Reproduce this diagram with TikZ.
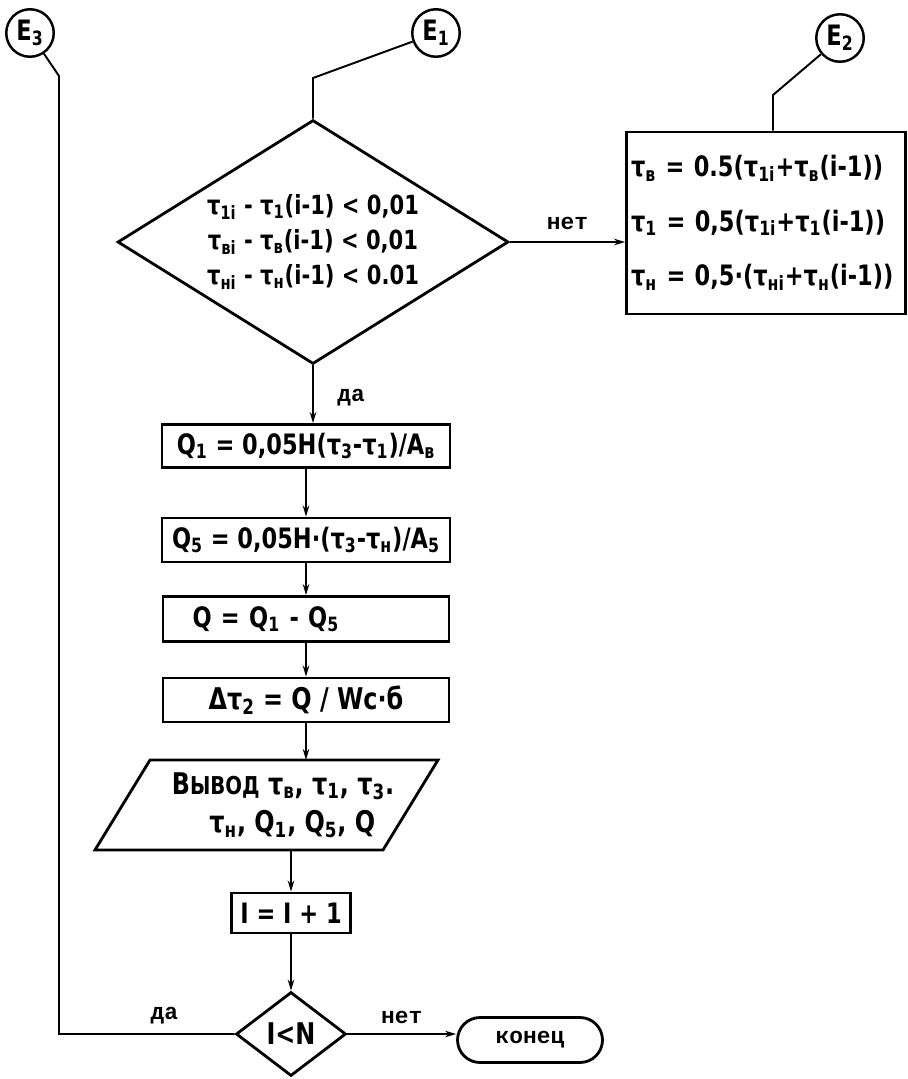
\documentclass[tikz,border=0pt]{standalone}
\usepackage{fontspec}
\setmainfont{DejaVu Sans}
\newfontfamily\hand[FakeStretch=0.8]{DejaVu Sans}
\newfontfamily\schreib{Liberation Mono}
\usetikzlibrary{shapes.geometric,arrows.meta}
\newcommand{\idx}[1]{\textsubscript{#1}}

\tikzset{
    block/.style={draw,line width=1.6pt,inner sep=0.09cm,font={\hand\bfseries\fontsize{16}{19}\selectfont}},
    raute/.style={draw,diamond,line width=1.6pt,inner sep=0pt,font={\hand\bfseries\fontsize{15}{20}\selectfont}},
    anschluss/.style={draw,circle,line width=1.4pt,minimum size=0.95cm,inner sep=0pt,font={\hand\bfseries\fontsize{16}{16}\selectfont}},
    linie/.style={line width=1.1pt},
    pfeil/.style={linie,-{Stealth[length=0.22cm,width=0.13cm]}},
    marke/.style={font={\schreib\bfseries\fontsize{13}{15}\selectfont}},
}

\begin{document}
\begin{tikzpicture}[x=0.02cm,y=-0.02cm]
    \useasboundingbox (0,0) rectangle (908,1079);

    % Anschlussstellen
    \node[anschluss] (e3) at (30,33) {E\idx{3}};
    \node[anschluss] (e1) at (436,33) {E\idx{1}};
    \node[anschluss] (e2) at (840,38) {E\idx{2}};
    \coordinate (k3) at (59,76);
    \coordinate (k1) at (313,78);
    \coordinate (k2) at (773,95);

    % Abfrage Genauigkeit
    \node[raute,shape aspect=1.6,minimum width=7.82cm,minimum height=4.88cm,align=center] (d1) at (313,242)
        {τ\idx{1i} - τ\idx{1}(i-1) < 0,01\\
         τ\idx{вi} - τ\idx{в}(i-1) < 0,01\\
         τ\idx{нi} - τ\idx{н}(i-1) < 0.01};
    \node[block,text width=5.4cm,minimum height=3.64cm,align=left,font={\hand\bfseries\fontsize{16}{31}\selectfont}] (rb) at (766,223)
        {τ\idx{в} = 0.5(τ\idx{1i}+τ\idx{в}(i-1))\\
         τ\idx{1} = 0,5(τ\idx{1i}+τ\idx{1}(i-1))\\
         τ\idx{н} = 0,5·(τ\idx{нi}+τ\idx{н}(i-1))};

    % Berechnung
    \node[block,minimum width=5.76cm,minimum height=0.86cm] (b1) at (306,446) {Q\idx{1} = 0,05H(τ\idx{3}-τ\idx{1})/A\idx{в}};
    \node[block,minimum width=5.76cm,minimum height=0.88cm] (b2) at (306,540) {Q\idx{5} = 0,05H·(τ\idx{3}-τ\idx{н})/A\idx{5}};
    \node[block,text width=5.54cm,minimum height=0.9cm,align=left] (b3) at (306,619) {\hspace*{0.5cm}Q = Q\idx{1} - Q\idx{5}};
    \node[block,minimum width=5.72cm,minimum height=0.88cm,font={\hand\bfseries\fontsize{17}{19}\selectfont}] (b4) at (306,700) {Δτ\idx{2} = Q / Wc·б};

    % Ausgabe
    \draw[line width=1.6pt] (150,760) -- (438,760) -- (383,850) -- (95,850) -- cycle;
    \coordinate (ptop) at (306,760);
    \coordinate (pbot) at (291,850);
    \node[font={\hand\bfseries\fontsize{17}{22}\selectfont},align=left] (vyvod) at (283,805)
        {В{\fontsize{14}{22}\selectfont ЫВОД} τ\idx{в}, τ\idx{1}, τ\idx{3}.\\
         \hspace*{0.75cm}τ\idx{н}, Q\idx{1}, Q\idx{5}, Q};

    % Zaehler und Ende
    \node[block,minimum width=2.38cm,minimum height=0.8cm] (inc) at (291,913) {I = I + 1};
    \node[raute,minimum width=2.2cm,minimum height=1.68cm,font={\hand\bfseries\fontsize{17}{20}\selectfont}] (cmp2) at (291,1034) {I<N};
    \node[draw,line width=1.6pt,rounded corners=0.45cm,minimum width=2.9cm,minimum height=0.9cm,marke] (konec) at (530,1040) {конец};

    % Verbindungen
    \draw[linie] (e1) -- (k1) -- (d1.north);
    \draw[linie] (e2) -- (k2) -- (k2 |- rb.north);
    \draw[pfeil] (d1.east) -- (d1.east -| rb.west) node[midway,above=3pt,marke] (net1) {нет};
    \draw[pfeil] (d1.south) -- (d1.south |- b1.north) node[pos=0.55,right=10pt,marke] (da1) {да};
    \foreach \a/\b in {b1/b2,b2/b3,b3/b4} {
        \draw[pfeil] (\a.south) -- (\b.north);
    }
    \draw[pfeil] (b4.south) -- (ptop);
    \draw[pfeil] (pbot) -- (inc.north);
    \draw[pfeil] (inc.south) -- (cmp2.north);
    \draw[pfeil] (cmp2.east) -- (cmp2.east -| konec.west) node[midway,above=2pt,marke] (net2) {нет};
    \draw[linie] (cmp2.west) -- (cmp2.west -| k3) node[pos=0.4,above=2pt,marke] (da2) {да} -- (k3) -- (e3);
\end{tikzpicture}
\end{document}
